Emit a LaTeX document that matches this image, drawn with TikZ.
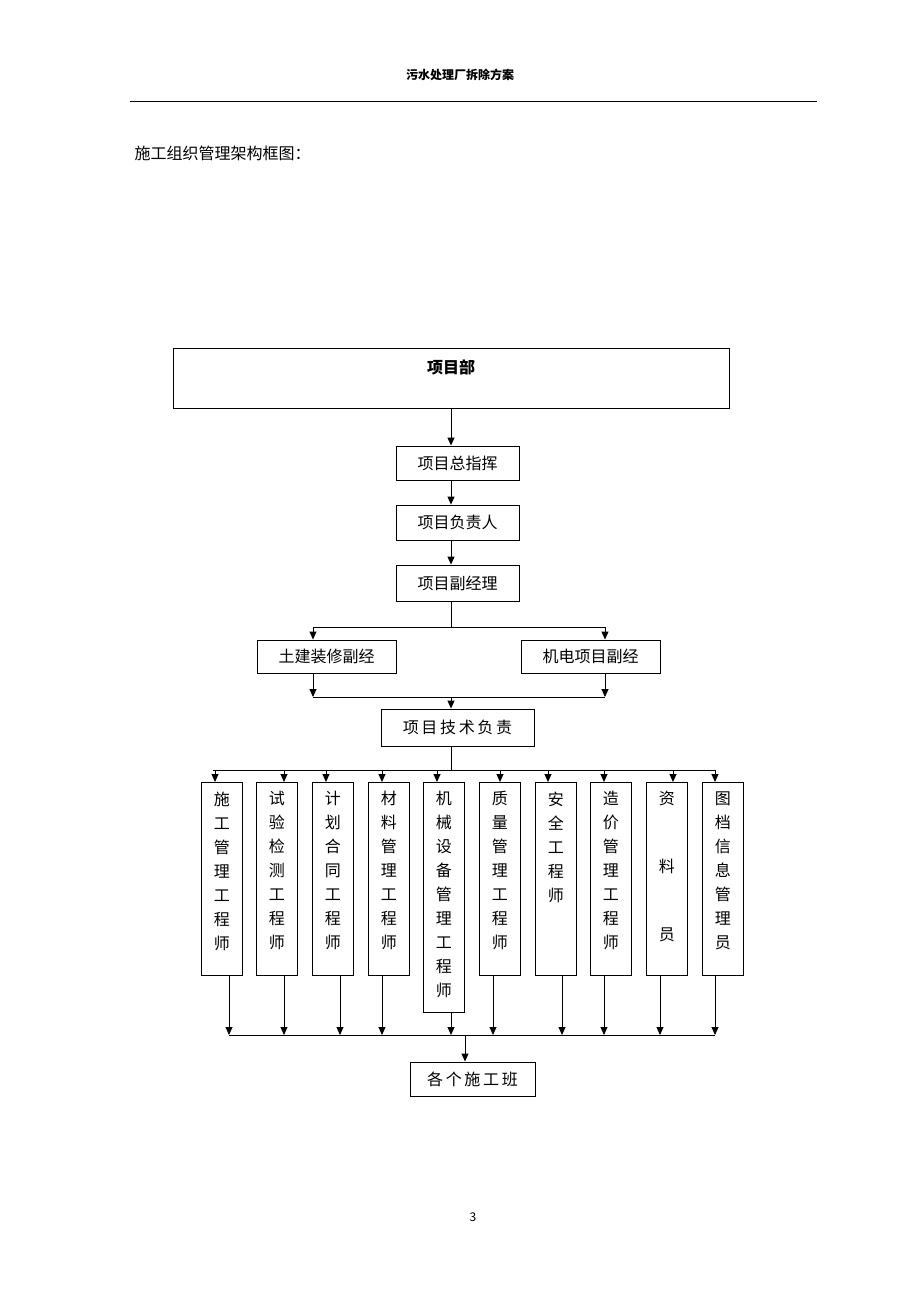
\documentclass[tikz,border=0pt]{standalone}
\usepackage{fontspec}
\setmainfont{Noto Sans CJK SC}
\usetikzlibrary{arrows.meta}
\begin{document}
\begin{tikzpicture}[x=1pt,y=-1pt,
  bx/.style={draw,line width=0.9pt,inner sep=0pt,font=\fontsize{16}{20}\selectfont},
  col/.style={draw,line width=0.9pt,inner sep=0pt,minimum width=41pt,anchor=north west},
  ar/.style={-{Triangle[length=8pt,width=7pt]},line width=0.9pt},
  ln/.style={line width=0.9pt}]
\useasboundingbox (0,0) rectangle (920,1302);
\node[font=\bfseries\fontsize{12}{14}\selectfont] (hdr) at (460,75) {污水处理厂拆除方案};
\draw[line width=0.8pt] (130,101) coordinate (h1) -- (817,101) coordinate (h2);
\node[anchor=west,font=\fontsize{16}{20}\selectfont] (ttl) at (131,153) {施工组织管理架构框图：};
\node[bx,minimum width=556pt,minimum height=60pt,anchor=north west] (xmb) at (173,348) {};
\node[font=\bfseries\fontsize{16}{20}\selectfont] (xmbt) at (451,367) {项目部};
\node[bx,minimum width=123pt,minimum height=34pt] (z) at (457.5,463) {项目总指挥};
\node[bx,minimum width=123pt,minimum height=35pt] (f) at (457.5,522.5) {项目负责人};
\node[bx,minimum width=123pt,minimum height=36pt] (j) at (457.5,583) {项目副经理};
\node[bx,minimum width=139pt,minimum height=33pt] (tj) at (326.5,656.5) {土建装修副经};
\node[bx,minimum width=139pt,minimum height=33pt] (jd) at (590.5,656.5) {机电项目副经};
\node[bx,minimum width=153pt,minimum height=37pt] (js) at (457.5,727.5) {项\,目\,技\,术\,负\,责};
\node[bx,minimum width=125pt,minimum height=34pt] (bz) at (472.5,1079) {各\,个\,施\,工\,班};
\node[font=\fontsize{12}{14}\selectfont] (pg) at (473,1217) {3};
% arrows top
\draw[ar] (xmb.south -| 451,0) -- (z.north -| 451,0);
\draw[ar] (z.south -| 451,0) -- (f.north -| 451,0);
\draw[ar] (f.south -| 451,0) -- (j.north -| 451,0);
\draw[ln] (j.south -| 451,0) -- (451,627) coordinate (b1);
\draw[ln] (313,627) coordinate (b1l) -- (605,627) coordinate (b1r);
\draw[ar] (b1l) -- (tj.north -| b1l);
\draw[ar] (b1r) -- (jd.north -| b1r);
\draw[ar] (tj.south -| b1l) -- (313,697) coordinate (b2l);
\draw[ar] (jd.south -| b1r) -- (605,697) coordinate (b2r);
\draw[ln] (b2l) -- (b2r);
\draw[ar] (451,697) coordinate (b2) -- (js.north -| b2);
\draw[ln] (js.south -| 451,0) -- (451,770) coordinate (b3);
\draw[ln] (213,770) coordinate (b3l) -- (715,770) coordinate (b3r);
% columns
\def\mkcol#1#2#3#4#5#6{%
  \node[col,minimum height=#3pt] (c#1) at (#2,782) {};
  \node[anchor=north,align=center,font=\fontsize{16}{24}\selectfont] (t#1) at ($(c#1.north)+(0,6)$) {#4};
  \draw[ar] (#5,770) -- (c#1.north -| #5,0);
  \draw[ar] (c#1.south -| #6,0) -- (#6,1035);}
\usetikzlibrary{calc}
\mkcol{1}{201}{193}{施\\工\\管\\理\\工\\程\\师}{215}{229}
\mkcol{2}{256}{193}{试\\验\\检\\测\\工\\程\\师}{284}{284}
\mkcol{3}{312}{193}{计\\划\\合\\同\\工\\程\\师}{326}{340}
\mkcol{4}{368}{193}{材\\料\\管\\理\\工\\程\\师}{382}{382}
\mkcol{5}{423}{230}{机\\械\\设\\备\\管\\理\\工\\程\\师}{437}{451}
\mkcol{6}{479}{193}{质\\量\\管\\理\\工\\程\\师}{500}{493}
\mkcol{7}{535}{193}{安\\全\\工\\程\\师}{548}{562}
\mkcol{8}{590}{193}{造\\价\\管\\理\\工\\程\\师}{604}{604}
\mkcol{9}{646}{193}{资\\[44pt]料\\[44pt]员}{673}{660}
\mkcol{10}{702}{193}{图\\档\\信\\息\\管\\理\\员}{715}{715}
\draw[ln] (229,1035) coordinate (b4l) -- (715,1035) coordinate (b4r);
\draw[ar] (465,1035) coordinate (b4) -- (bz.north -| b4);
\end{tikzpicture}
\end{document}
